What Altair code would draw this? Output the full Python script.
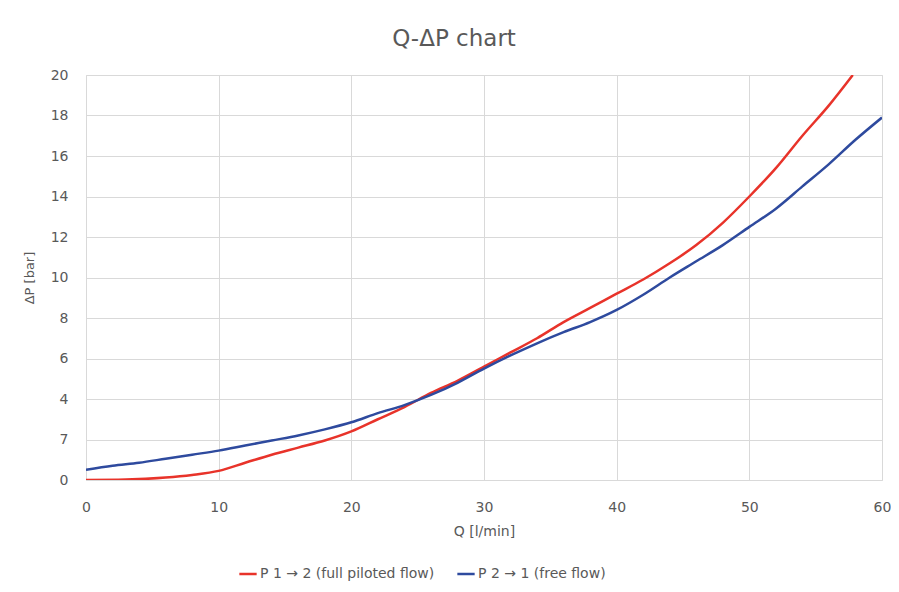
import altair as alt
import pandas as pd

red_q = [0, 3, 6, 8, 10, 12, 14, 16, 18, 20, 22, 24, 26, 28, 30, 32, 34, 36, 38, 40, 42, 44, 46, 48, 50, 52, 54, 56, 57.8]
red_dp = [0, 0.02, 0.12, 0.25, 0.45, 0.85, 1.25, 1.6, 1.95, 2.4, 3.0, 3.6, 4.3, 4.9, 5.6, 6.3, 7.0, 7.8, 8.5, 9.2, 9.9, 10.7, 11.6, 12.7, 14.0, 15.4, 17.0, 18.5, 20.0]

blue_q = [0, 2, 4, 6, 8, 10, 12, 14, 16, 18, 20, 22, 24, 26, 28, 30, 32, 34, 36, 38, 40, 42, 44, 46, 48, 50, 52, 54, 56, 58, 60]
blue_dp = [0.5, 0.7, 0.85, 1.05, 1.25, 1.45, 1.7, 1.95, 2.2, 2.5, 2.85, 3.3, 3.7, 4.2, 4.8, 5.5, 6.15, 6.75, 7.3, 7.8, 8.4, 9.15, 10.0, 10.8, 11.6, 12.5, 13.4, 14.5, 15.6, 16.8, 17.9]

series_names = ["P 1 → 2 (full piloted flow)", "P 2 → 1 (free flow)"]
series_colors = ["#e8332a", "#2e4a9e"]

rows = []
for q, v in zip(red_q, red_dp):
    rows.append({"Q": q, "dP": v, "series": series_names[0]})
for q, v in zip(blue_q, blue_dp):
    rows.append({"Q": q, "dP": v, "series": series_names[1]})
df = pd.DataFrame(rows)

FONT = "DejaVu Sans"
GREY = "#595959"

chart = alt.Chart(df).mark_line(strokeWidth=2.5, clip=True, interpolate="monotone").encode(
    x=alt.X("Q:Q", scale=alt.Scale(domain=[0, 60], nice=False),
            axis=alt.Axis(title="Q [l/min]", values=[0, 10, 20, 30, 40, 50, 60],
                          grid=True, gridColor="#d9d9d9", domain=False, ticks=False,
                          labelFlush=False,
                          labelPadding=20, titlePadding=10, labelFontSize=14,
                          titleFontSize=14, titleFontWeight="normal",
                          labelColor=GREY, titleColor=GREY, labelFont=FONT, titleFont=FONT)),
    y=alt.Y("dP:Q", scale=alt.Scale(domain=[0, 20], nice=False),
            axis=alt.Axis(title="ΔP [bar]", values=list(range(0, 21, 2)),
                          labelExpr="datum.value == 2 ? '7' : datum.label",
                          grid=True, gridColor="#d9d9d9", domain=False, ticks=False,
                          labelFlush=False,
                          labelPadding=18, titlePadding=14, labelFontSize=14,
                          titleFontSize=13, titleFontWeight="normal",
                          labelColor=GREY, titleColor=GREY, labelFont=FONT, titleFont=FONT)),
    color=alt.Color("series:N", scale=alt.Scale(domain=series_names, range=series_colors),
                    legend=alt.Legend(title=None, orient="none", direction="horizontal",
                                      legendX=152, legendY=489, symbolType="stroke",
                                      symbolStrokeWidth=2.5, symbolSize=300,
                                      labelFontSize=14, labelColor=GREY, labelFont=FONT,
                                      labelLimit=400, columnPadding=17, labelOffset=2)),
).properties(
    width=796, height=405,
    title=alt.TitleParams("Q-ΔP chart", fontSize=23, font=FONT, color=GREY,
                          fontWeight="normal", anchor="middle", offset=17, dx=-30),
    autosize=alt.AutoSizeParams(type="none"),
    padding={"left": 78, "top": 67, "right": 9, "bottom": 104},
).configure_view(stroke=None).configure(background="white")

chart.save("out.html", embed_options={"renderer": "svg", "actions": False})
